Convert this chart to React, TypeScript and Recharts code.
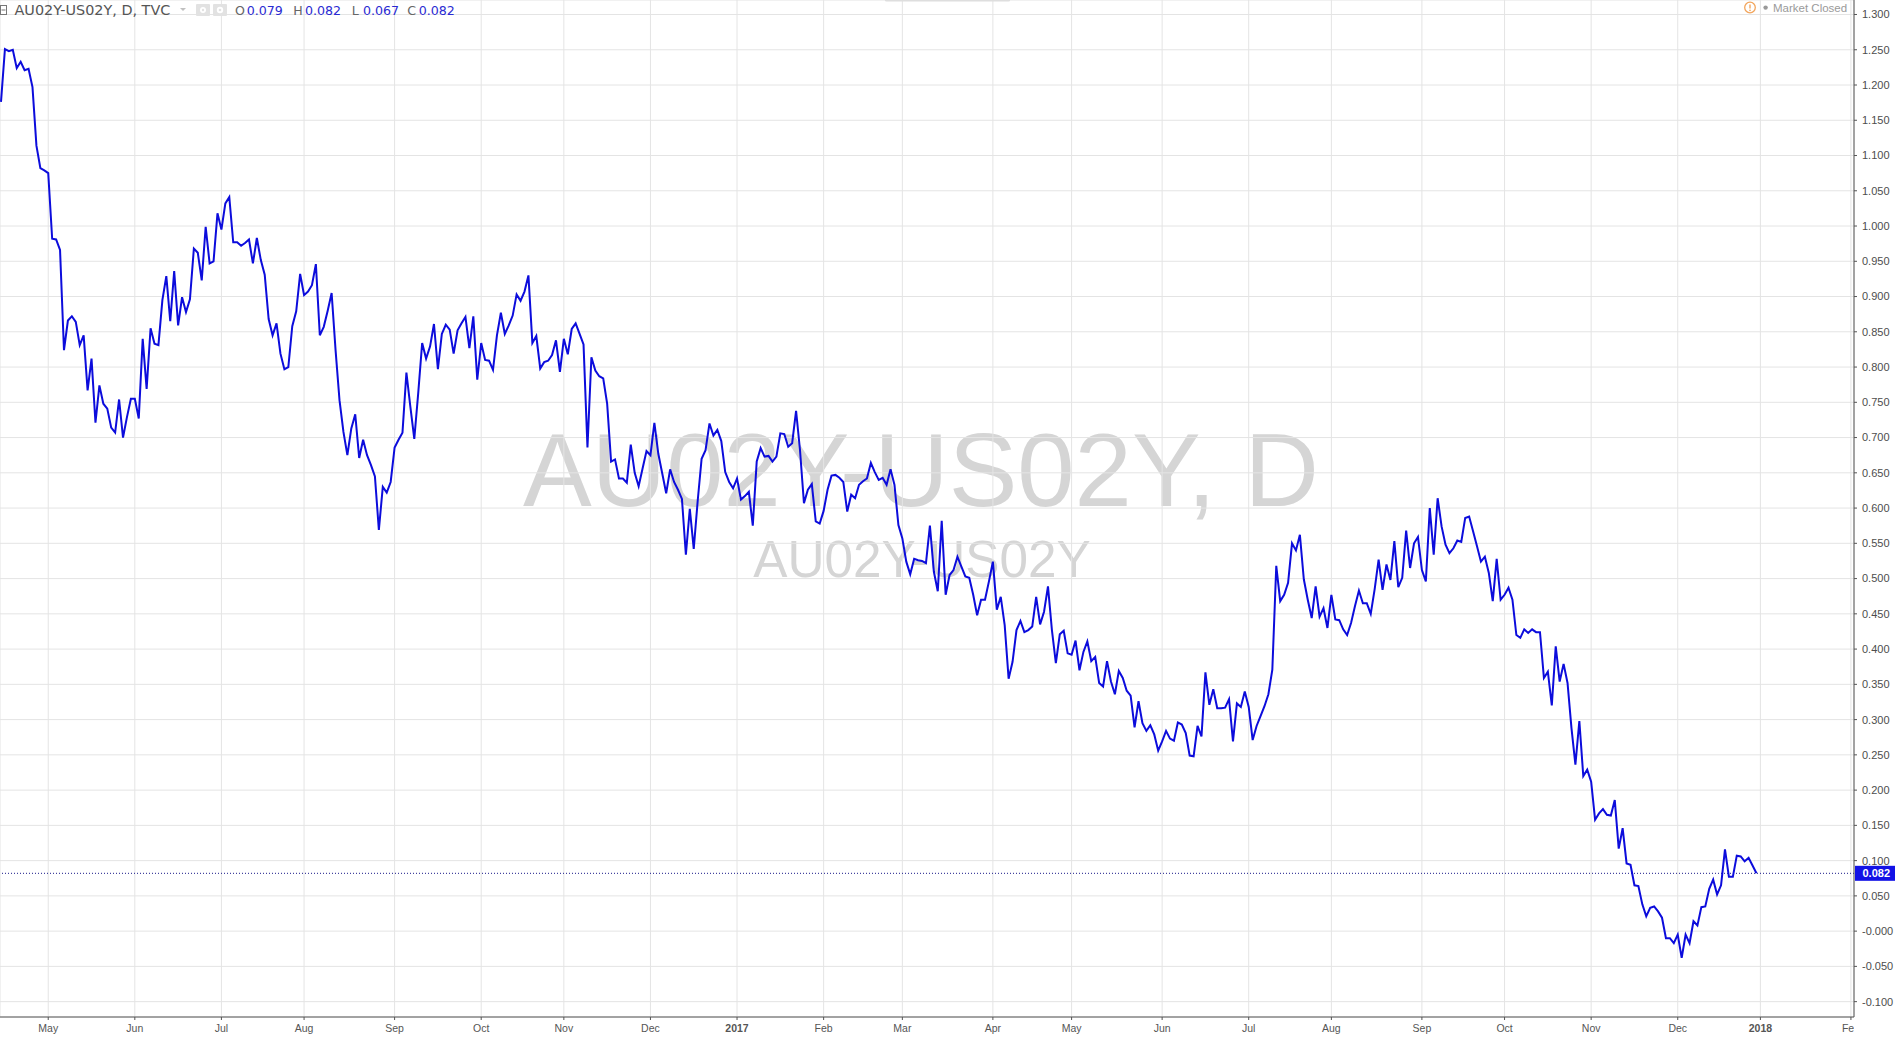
import React from 'react';
import { LineChart, Line, XAxis, YAxis, CartesianGrid, ReferenceLine } from 'recharts';

// Daily closes of AU02Y-US02Y, one per weekday bar (bar 0 = mid April 2016)
const closes2016a = [
  1.176, 1.251, 1.248, 1.250, 1.224, 1.233, 1.221, 1.223, 1.197, 1.114,
  1.082, 1.079, 1.075, 0.982, 0.981, 0.966, 0.824, 0.866, 0.872, 0.864,
  0.831, 0.845, 0.767, 0.812, 0.721, 0.774, 0.748, 0.741, 0.714, 0.707,
  0.754, 0.700, 0.729, 0.755, 0.755, 0.727, 0.840, 0.769, 0.855, 0.833,
  0.831, 0.895, 0.929, 0.865, 0.936, 0.859, 0.899, 0.878, 0.896, 0.968,
  0.962, 0.923, 0.999, 0.947, 0.950, 1.018, 0.995, 1.032, 1.041, 0.977,
  0.977, 0.972, 0.976, 0.981, 0.947,
];
const closes2016b = [
  0.983, 0.952, 0.931, 0.868, 0.845, 0.862, 0.819, 0.797, 0.800, 0.858,
  0.879, 0.932, 0.902, 0.907, 0.916, 0.946, 0.845, 0.857, 0.880, 0.905,
  0.824, 0.753, 0.708, 0.675, 0.713, 0.733, 0.671, 0.697, 0.675, 0.661,
  0.645, 0.569, 0.630, 0.622, 0.637, 0.686, 0.697, 0.707, 0.792, 0.744,
  0.698, 0.763, 0.834, 0.812, 0.829, 0.861, 0.797, 0.847, 0.860, 0.853,
  0.819, 0.852, 0.862, 0.871, 0.827, 0.872, 0.782, 0.834, 0.810, 0.809,
  0.796, 0.845, 0.877,
];
const closes2016c = [
  0.847, 0.859, 0.873, 0.903, 0.894, 0.907, 0.930, 0.834, 0.844, 0.798,
  0.807, 0.809, 0.817, 0.838, 0.793, 0.840, 0.818, 0.854, 0.862, 0.847,
  0.832, 0.686, 0.814, 0.795, 0.787, 0.784, 0.748, 0.666, 0.669, 0.642,
  0.642, 0.636, 0.690, 0.650, 0.631, 0.656, 0.681, 0.675, 0.721, 0.677,
  0.649, 0.621, 0.655, 0.637, 0.626, 0.613, 0.534, 0.599, 0.542, 0.610,
  0.670, 0.682, 0.720, 0.703, 0.711, 0.695, 0.651, 0.637, 0.628, 0.642,
  0.612, 0.617, 0.623, 0.575,
];
const closes2017a = [
  0.666, 0.685, 0.673, 0.674, 0.666, 0.673, 0.706, 0.705, 0.687, 0.692,
  0.738, 0.682, 0.607, 0.626, 0.634, 0.581, 0.578, 0.596, 0.626, 0.646,
  0.647, 0.643, 0.637, 0.595, 0.619, 0.614, 0.633, 0.638, 0.642, 0.664,
  0.651, 0.640, 0.643, 0.633, 0.655, 0.633, 0.576, 0.557, 0.524, 0.506,
  0.528, 0.526, 0.525, 0.522, 0.575, 0.510, 0.482, 0.582, 0.477, 0.505,
  0.512, 0.531, 0.517, 0.503, 0.501, 0.477, 0.448, 0.470, 0.470, 0.496,
  0.524, 0.456, 0.474,
];
const closes2017b = [
  0.434, 0.358, 0.382, 0.427, 0.440, 0.424, 0.427, 0.432, 0.474, 0.435,
  0.453, 0.489, 0.427, 0.380, 0.421, 0.426, 0.394, 0.392, 0.412, 0.370,
  0.396, 0.411, 0.383, 0.389, 0.352, 0.347, 0.383, 0.354, 0.336, 0.369,
  0.359, 0.341, 0.334, 0.289, 0.326, 0.295, 0.284, 0.292, 0.279, 0.256,
  0.269, 0.284, 0.273, 0.270, 0.296, 0.293, 0.281, 0.249, 0.248, 0.291,
  0.276, 0.367, 0.321, 0.343, 0.316, 0.316, 0.317, 0.329, 0.269, 0.323,
  0.318, 0.340, 0.318, 0.271,
];
const closes2017c = [
  0.291, 0.305, 0.319, 0.336, 0.371, 0.518, 0.468, 0.477, 0.494, 0.550,
  0.540, 0.562, 0.499, 0.470, 0.444, 0.489, 0.446, 0.458, 0.430, 0.477,
  0.442, 0.441, 0.428, 0.420, 0.437, 0.461, 0.483, 0.465, 0.465, 0.450,
  0.485, 0.527, 0.484, 0.520, 0.498, 0.553, 0.488, 0.501, 0.568, 0.515,
  0.550, 0.559, 0.512, 0.496, 0.600, 0.534, 0.614, 0.574, 0.548, 0.536,
  0.543, 0.554, 0.552, 0.586, 0.588, 0.567, 0.546, 0.524, 0.531, 0.508,
  0.468, 0.528, 0.470, 0.477,
];
const closes2017d = [
  0.487, 0.470, 0.420, 0.416, 0.428, 0.423, 0.428, 0.424, 0.424, 0.359,
  0.368, 0.320, 0.404, 0.354, 0.379, 0.352, 0.288, 0.236, 0.298, 0.220,
  0.229, 0.212, 0.158, 0.167, 0.173, 0.165, 0.164, 0.186, 0.117, 0.146,
  0.096, 0.094, 0.065, 0.064, 0.038, 0.021, 0.033, 0.035, 0.028, 0.019,
  -0.010, -0.010, -0.017, -0.005, -0.038, -0.005, -0.017, 0.014, 0.008, 0.034,
  0.035, 0.060, 0.073, 0.052, 0.065, 0.116, 0.077, 0.077, 0.107, 0.106,
  0.099, 0.104, 0.093, 0.082,
];

const monthTickBars = [12, 34, 56, 77, 100, 122, 143, 165, 187, 209, 229, 252, 272, 295, 317, 338, 361, 382, 404, 426, 447, 470];
const monthTickLabels = ['May', 'Jun', 'Jul', 'Aug', 'Sep', 'Oct', 'Nov', 'Dec', '2017', 'Feb', 'Mar', 'Apr', 'May', 'Jun', 'Jul', 'Aug', 'Sep', 'Oct', 'Nov', 'Dec', '2018', 'Feb'];

const yTicks = [-0.1, -0.05, 0, 0.05, 0.1, 0.15, 0.2, 0.25, 0.3, 0.35, 0.4, 0.45, 0.5, 0.55, 0.6, 0.65, 0.7, 0.75, 0.8, 0.85, 0.9, 0.95, 1.0, 1.05, 1.1, 1.15, 1.2, 1.25, 1.3];
const yTickLabels = ['-0.100', '-0.050', '-0.000', '0.050', '0.100', '0.150', '0.200', '0.250', '0.300', '0.350', '0.400', '0.450', '0.500', '0.550', '0.600', '0.650', '0.700', '0.750', '0.800', '0.850', '0.900', '0.950', '1.000', '1.050', '1.100', '1.150', '1.200', '1.250', '1.300'];

const ohlcKeys = ['O', 'H', 'L', 'C'];
const ohlcValues = ['0.079', '0.082', '0.067', '0.082'];
const lastClose = 0.082;
const lastCloseLabel = '0.082';
const symbolTitle = 'AU02Y-US02Y, D, TVC';
const watermarkMain = 'AU02Y-US02Y, D';
const watermarkSub = 'AU02Y-US02Y';

const allCloses = [...closes2016a, ...closes2016b, ...closes2016c, ...closes2017a, ...closes2017b, ...closes2017c, ...closes2017d];
const data = allCloses.map((v, i) => ({ bar: i, value: v }));

const W = 1901;
const H = 1037;
const AXIS_FONT = "'Liberation Sans', Arial, sans-serif";
const HEAD_FONT = "'DejaVu Sans', 'Open Sans', sans-serif";

function XTick(props: any) {
  const { x, y, payload } = props;
  const i = monthTickBars.indexOf(payload.value);
  const label = i >= 0 ? monthTickLabels[i] : '';
  const isYear = /^\d{4}$/.test(label);
  const cid = `xclip-${i}`;
  return (
    <g>
      <defs>
        <clipPath id={cid}>
          <rect x={0} y={1017} width={1854} height={20} />
        </clipPath>
      </defs>
      <text
        x={x}
        y={y + 9.5}
        textAnchor="middle"
        fontFamily={AXIS_FONT}
        fontSize={10.5}
        fontWeight={isYear ? 'bold' : 'normal'}
        fill="#555555"
        clipPath={`url(#${cid})`}
      >
        {label}
      </text>
    </g>
  );
}

function PriceLabel(props: any) {
  const vb = props.viewBox || {};
  const x = (vb.x || 0) + (vb.width || 0);
  const y = vb.y || 0;
  return (
    <g>
      <rect x={x + 1} y={y - 7.5} width={40} height={15} fill="#1212e6" />
      <text x={x + 8.5} y={y + 4} fontFamily={AXIS_FONT} fontSize={11} fontWeight="bold" fill="#ffffff">
        {lastCloseLabel}
      </text>
    </g>
  );
}

function yLabel(v: number) {
  const i = yTicks.findIndex((t) => Math.abs(t - v) < 1e-6);
  return i >= 0 ? yTickLabels[i] : '';
}

export default function App() {
  return (
    <div style={{ position: 'absolute', left: 0, top: 0, width: W, height: H, overflow: 'hidden', background: '#ffffff' }}>
      {/* watermark behind the chart */}
      <svg width={W} height={H} style={{ position: 'absolute', left: 0, top: 0 }}>
        <text x={921} y={506} textAnchor="middle" fontFamily={AXIS_FONT} fontSize={103} fill="#d5d5d5">
          {watermarkMain}
        </text>
        <text x={922} y={577} textAnchor="middle" fontFamily={AXIS_FONT} fontSize={51.3} fill="#d5d5d5">
          {watermarkSub}
        </text>
      </svg>

      <div style={{ position: 'absolute', left: 0, top: 0 }}>
        <LineChart width={W} height={H} data={data} margin={{ top: 0, right: 0, bottom: 0, left: 0 }}>
          <CartesianGrid stroke="#e4e4e4" strokeWidth={1} />
          <XAxis
            dataKey="bar"
            type="number"
            domain={[-0.254, 470.78]}
            allowDataOverflow
            ticks={monthTickBars}
            interval={0}
            height={20}
            tickSize={3}
            tickMargin={2}
            axisLine={{ stroke: '#555555' }}
            tickLine={{ stroke: '#555555' }}
            tick={<XTick />}
          />
          <YAxis
            orientation="right"
            type="number"
            domain={[-0.12178, 1.32056]}
            allowDataOverflow
            ticks={yTicks}
            interval={0}
            width={47}
            tickSize={3}
            tickMargin={5}
            axisLine={{ stroke: '#555555' }}
            tickLine={{ stroke: '#555555' }}
            tick={{ fill: '#4d4d4d', fontSize: 11, fontFamily: AXIS_FONT }}
            tickFormatter={yLabel}
          />
          <ReferenceLine
            y={lastClose}
            stroke="#1a1a8a"
            strokeWidth={1}
            strokeDasharray="1 2"
            label={<PriceLabel />}
          />
          <Line
            type="linear"
            dataKey="value"
            stroke="#0c0cdc"
            strokeWidth={2}
            dot={false}
            activeDot={false}
            isAnimationActive={false}
          />
        </LineChart>
      </div>

      {/* header overlay */}
      <svg width={W} height={24} style={{ position: 'absolute', left: 0, top: 0, pointerEvents: 'none' }}>
        <rect x={885} y={-1} width={125} height={2.5} rx={1.2} fill="#dedede" />
        <rect x={0.5} y={5.5} width={6} height={9} fill="#ffffff" stroke="#777777" strokeWidth={1} />
        <line x1={1.5} y1={10} x2={5.5} y2={10} stroke="#777777" strokeWidth={1} />
        <text x={14.5} y={15} fontFamily={HEAD_FONT} fontSize={14.4} fill="#555555">
          {symbolTitle}
        </text>
        <polygon points="180,8 186,8 183,11" fill="#c0c0c0" />
        <rect x={196} y={4} width={14} height={12} rx={1} fill="#e2e2e2" />
        <circle cx={203} cy={10} r={3} fill="#ffffff" />
        <circle cx={203} cy={10} r={1.2} fill="#e2e2e2" />
        <rect x={213} y={4} width={14} height={12} rx={1} fill="#e2e2e2" />
        <circle cx={220} cy={10} r={3.2} fill="#ffffff" />
        <circle cx={220} cy={10} r={1.3} fill="#e2e2e2" />
        {ohlcKeys.map((k, i) => {
          const xs = [235, 293.3, 351.7, 407.3];
          const vx = [246.7, 305, 363, 418.7];
          return (
            <g key={k}>
              <text x={xs[i]} y={15} fontFamily={HEAD_FONT} fontSize={12.6} fill="#666666">{k}</text>
              <text x={vx[i]} y={15} fontFamily={HEAD_FONT} fontSize={12.6} fill="#2a2ad2">{ohlcValues[i]}</text>
            </g>
          );
        })}
        <circle cx={1750} cy={7.5} r={5.3} fill="#ffffff" stroke="#f2a55c" strokeWidth={1.3} />
        <line x1={1750} y1={4.6} x2={1750} y2={8.6} stroke="#f2a55c" strokeWidth={1.4} />
        <circle cx={1750} cy={10.4} r={0.8} fill="#f2a55c" />
        <circle cx={1765.6} cy={7.6} r={2.2} fill="#999999" />
        <text x={1773} y={11.5} fontFamily={AXIS_FONT} fontSize={11.5} fill="#9a9a9a">
          Market Closed
        </text>
      </svg>
    </div>
  );
}
